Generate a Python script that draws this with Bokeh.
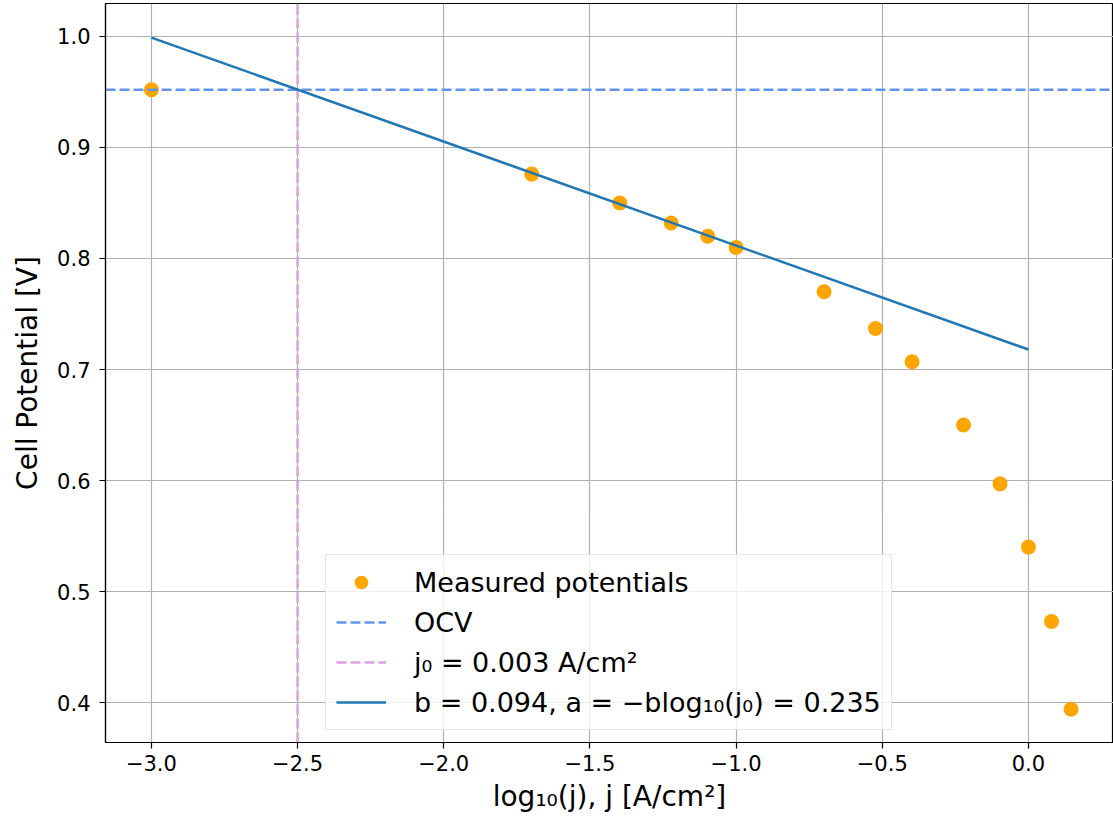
from bokeh.plotting import figure
from bokeh.models import Range1d, FixedTicker, Legend, LegendItem
from bokeh.embed import file_html
from bokeh.resources import INLINE

# data
log_j = [-3.0, -1.699, -1.398, -1.222, -1.097, -1.0, -0.699, -0.523, -0.398, -0.222, -0.097, 0.0, 0.079, 0.146]
potential = [0.952, 0.876, 0.850, 0.832, 0.820, 0.810, 0.770, 0.737, 0.707, 0.650, 0.597, 0.540, 0.473, 0.394]
ocv = 0.952
log_j0 = -2.5
fit_x = [-3.0, 0.0]
fit_y = [0.999, 0.718]

x_ticks = [-3.0, -2.5, -2.0, -1.5, -1.0, -0.5, 0.0]
x_tick_labels = ["\u22123.0", "\u22122.5", "\u22122.0", "\u22121.5", "\u22121.0", "\u22120.5", "0.0"]
y_ticks = [0.4, 0.5, 0.6, 0.7, 0.8, 0.9, 1.0]
y_tick_labels = ["0.4", "0.5", "0.6", "0.7", "0.8", "0.9", "1.0"]

x_min, x_max = -3.157, 0.291
y_min, y_max = 0.364, 1.0297

FONT = "DejaVu Sans"

p = figure(width=1113, height=827, output_backend="svg", toolbar_location=None,
           x_range=Range1d(x_min, x_max), y_range=Range1d(y_min, y_max))
p.min_border_left = 105
p.min_border_right = 0
p.min_border_top = 3
p.min_border_bottom = 85
p.outline_line_color = "black"
p.outline_line_width = 1.2

for ax in (p.xaxis[0], p.yaxis[0]):
    ax.axis_line_color = "black"
    ax.axis_line_width = 1.2
    ax.major_tick_in = 0
    ax.major_tick_out = 6
    ax.major_tick_line_width = 1.2
    ax.minor_tick_line_color = None
    ax.major_label_text_font = FONT
    ax.major_label_text_font_size = "21px"
    ax.major_label_text_color = "black"
    ax.axis_label_text_font = FONT
    ax.axis_label_text_font_size = "28px"
    ax.axis_label_text_font_style = "normal"
    ax.axis_label_text_color = "black"

p.xaxis.ticker = FixedTicker(ticks=x_ticks)
p.xaxis.major_label_overrides = dict(zip(x_ticks, x_tick_labels))
p.yaxis.ticker = FixedTicker(ticks=y_ticks)
p.yaxis.major_label_overrides = dict(zip(y_ticks, y_tick_labels))
p.xaxis.axis_label = "log\u2081\u2080(j), j [A/cm\u00b2]"
p.yaxis.axis_label = "Cell Potential [V]"
p.xaxis.major_label_standoff = 6
p.yaxis.major_label_standoff = 9
p.xaxis.axis_label_standoff = 6
p.yaxis.axis_label_standoff = 10

p.grid.grid_line_color = "#b0b0b0"
p.grid.grid_line_width = 1.2

r_pts = p.scatter(log_j, potential, size=15, color="orange", line_color=None)
r_ocv = p.line([x_min, x_max], [ocv, ocv], line_color="#6495ED", line_width=2.5, line_dash="10 4")
r_j0 = p.line([log_j0, log_j0], [y_min, y_max], line_color="#DDA0DD", line_width=2.5, line_dash="10 4")
r_fit = p.line(fit_x, fit_y, line_color="#1f77b4", line_width=2.5)

legend = Legend(items=[
    LegendItem(label="Measured potentials", renderers=[r_pts]),
    LegendItem(label="OCV", renderers=[r_ocv]),
    LegendItem(label="j\u2080 = 0.003 A/cm\u00b2", renderers=[r_j0]),
    LegendItem(label="b = 0.094, a = \u2212blog\u2081\u2080(j\u2080) = 0.235", renderers=[r_fit]),
], location=(220, 12))
legend.label_text_font = FONT
legend.label_text_font_size = "27px"
legend.label_text_color = "black"
legend.label_height = 34
legend.glyph_width = 50
legend.glyph_height = 34
legend.spacing = 6
legend.padding = 10
legend.margin = 0
legend.border_line_color = "#d0d0d0"
legend.border_line_width = 1.2
legend.background_fill_alpha = 0.8
legend.label_standoff = 28
p.add_layout(legend, "center")

open("out.html", "w").write(file_html(p, INLINE))
